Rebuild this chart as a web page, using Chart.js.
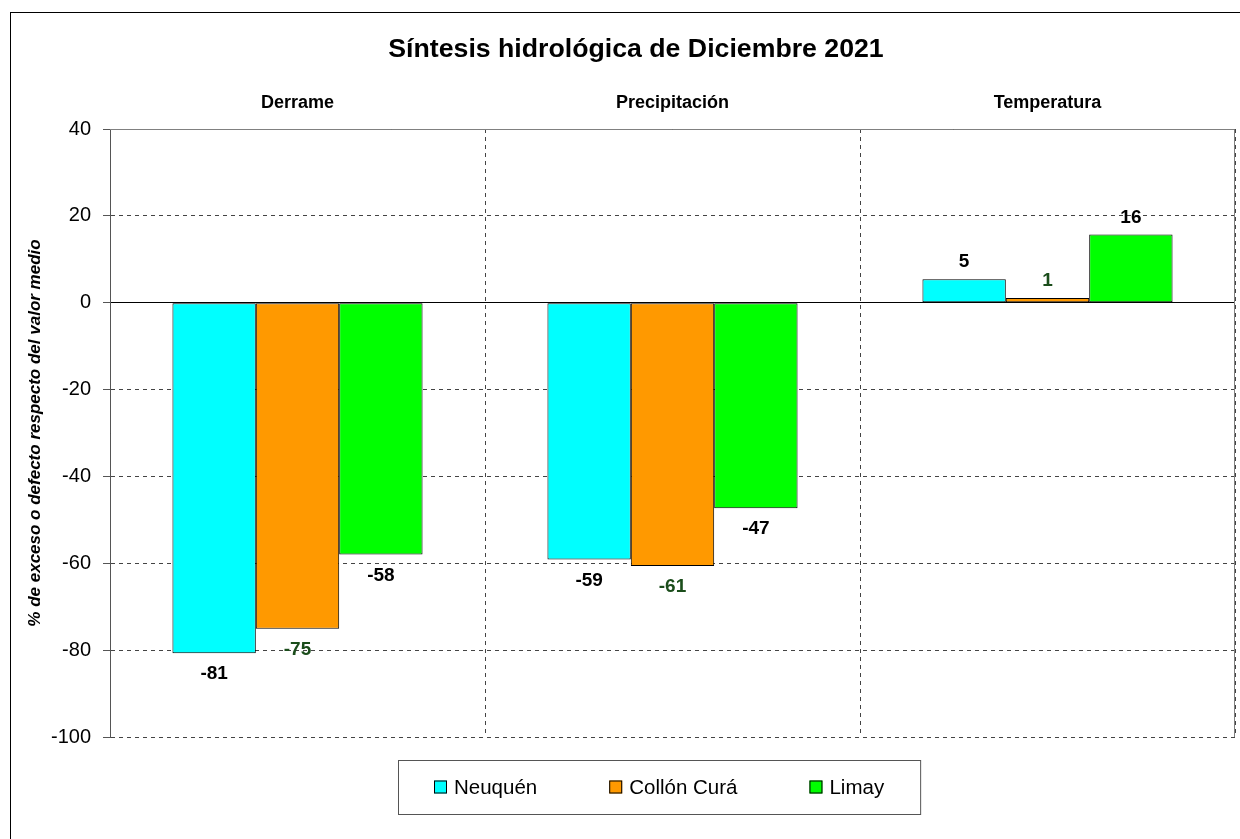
<!DOCTYPE html>
<html>
<head>
<meta charset="utf-8">
<script src="https://cdn.jsdelivr.net/npm/chart.js@4.4.1/dist/chart.umd.min.js"></script>
<style>
  html, body { margin: 0; padding: 0; background: #fff; }
  #wrap { width: 1240px; height: 839px; }
</style>
</head>
<body>
<div id="wrap"><canvas id="chart" width="1240" height="839"></canvas></div>
<script>
const chartTitle = 'Síntesis hidrológica de Diciembre 2021';
const axisTitle = '% de exceso o defecto respecto del valor medio';
const categories = ['Derrame', 'Precipitación', 'Temperatura'];
const seriesNames = ['Neuquén', 'Collón Curá', 'Limay'];
const neuquen = [-80.7, -59.1, 5.4];
const collonCura = [-75.1, -60.6, 1.1];
const limay = [-58.0, -47.3, 15.7];
const yTicks = [40, 20, 0, -20, -40, -60, -80, -100];

const colors = ['#00ffff', '#ff9900', '#00ff00'];
const labelColors = ['#000000', '#1b4d1b', '#000000'];
const FONT = '"Liberation Sans", Arial, sans-serif';

Chart.defaults.font.family = FONT;
Chart.defaults.color = '#000';

// frame, title, plot border
const framePlugin = {
    id: 'frame',
    beforeDraw(chart) {
        const { ctx } = chart;
        ctx.save();
        ctx.fillStyle = '#fff';
        ctx.fillRect(0, 0, chart.width, chart.height);
        ctx.restore();
    },
    afterDraw(chart) {
        const { ctx, chartArea: a } = chart;
        ctx.save();
        ctx.strokeStyle = '#000';
        ctx.lineWidth = 1;
        ctx.strokeRect(10.5, 12.5, 1300, 900);

        ctx.strokeStyle = '#808080';
        ctx.beginPath();
        ctx.moveTo(a.left, a.top + 0.5);
        ctx.lineTo(a.right - 0.5, a.top + 0.5);
        ctx.lineTo(a.right - 0.5, a.bottom);
        ctx.stroke();

        ctx.fillStyle = '#000';
        ctx.font = `bold 26.7px ${FONT}`;
        ctx.textAlign = 'center';
        ctx.textBaseline = 'middle';
        ctx.fillText(chartTitle, 636, 50);
        ctx.restore();
    },
};

// value labels at the bar ends
const valueLabels = {
    id: 'valueLabels',
    afterDatasetsDraw(chart) {
        const { ctx } = chart;
        ctx.save();
        ctx.font = `bold 19px ${FONT}`;
        ctx.textAlign = 'center';
        ctx.textBaseline = 'middle';
        chart.data.datasets.forEach((ds, i) => {
            const meta = chart.getDatasetMeta(i);
            ctx.fillStyle = labelColors[i];
            meta.data.forEach((bar, j) => {
                const v = ds.data[j];
                const y = v < 0 ? bar.y + 21 : bar.y - 17;
                ctx.fillText(String(Math.round(v)), bar.x, y);
            });
        });
        ctx.restore();
    },
};

// boxed legend under the plot
const boxLegend = {
    id: 'boxLegend',
    afterDraw(chart) {
        const { ctx } = chart;
        const pad = 36, box = 13, gap = 7, itemGap = 72;
        ctx.save();
        ctx.font = `20.5px ${FONT}`;
        const widths = seriesNames.map((n) => ctx.measureText(n).width);
        const total = pad * 2 + widths.reduce((s, w) => s + w + box + gap, 0) + itemGap * (seriesNames.length - 1);
        const left = Math.round(659 - total / 2);
        const top = 760, h = 54;
        ctx.strokeStyle = '#555';
        ctx.lineWidth = 1;
        ctx.strokeRect(left + 0.5, top + 0.5, total, h);

        let x = left + pad;
        const cy = top + h / 2;
        ctx.textBaseline = 'middle';
        ctx.textAlign = 'left';
        seriesNames.forEach((name, i) => {
            ctx.fillStyle = colors[i];
            ctx.fillRect(x, cy - box / 2, box, box);
            ctx.strokeStyle = '#000';
            ctx.strokeRect(x + 0.5, cy - box / 2 + 0.5, box - 1, box - 1);
            ctx.fillStyle = '#000';
            ctx.fillText(name, x + box + gap, cy + 1);
            x += box + gap + widths[i] + itemGap;
        });
        ctx.restore();
    },
};

const makeSet = (label, data, i) => ({
    label,
    data,
    backgroundColor: colors[i],
    borderColor: '#000',
    borderWidth: 1,
    borderSkipped: false,
    barPercentage: 1,
    categoryPercentage: 0.667,
});

new Chart(document.getElementById('chart'), {
    type: 'bar',
    data: {
        labels: categories,
        datasets: [
            makeSet(seriesNames[0], neuquen, 0),
            makeSet(seriesNames[1], collonCura, 1),
            makeSet(seriesNames[2], limay, 2),
        ],
    },
    options: {
        responsive: false,
        devicePixelRatio: 1,
        animation: false,
        layout: { padding: { left: 10, right: 5, top: 0, bottom: 102 } },
        plugins: {
            legend: { display: false },
            title: { display: false },
            tooltip: { enabled: false },
        },
        scales: {
            x: {
                position: 'top',
                afterFit: (axis) => { axis.height = 129; },
                grid: {
                    offset: true,
                    color: '#444',
                    drawTicks: false,
                },
                border: { display: false, dash: [4, 4] },
                ticks: {
                    font: { size: 18, weight: 'bold' },
                    color: '#000',
                    padding: 15,
                },
            },
            y: {
                min: -100,
                max: 40,
                afterFit: (axis) => { axis.width = 100; },
                afterBuildTicks: (axis) => { axis.ticks = yTicks.map((v) => ({ value: v })); },
                grid: {
                    color: (c) => (c.tick && c.tick.value === 0 ? '#000' : '#444'),
                    tickColor: '#555',
                    tickLength: 7,
                },
                border: {
                    display: true,
                    color: '#555',
                    width: 1,
                    dash: (c) => (c.type === 'tick' && c.tick.value !== 0 ? [4, 4] : []),
                },
                ticks: {
                    font: { size: 20 },
                    color: '#000',
                    padding: 12,
                },
                title: {
                    display: true,
                    text: axisTitle,
                    font: { size: 17, weight: 'bold', style: 'italic' },
                    color: '#000',
                    padding: { top: 15, bottom: 0 },
                },
            },
        },
    },
    plugins: [framePlugin, valueLabels, boxLegend],
});
</script>
</body>
</html>
